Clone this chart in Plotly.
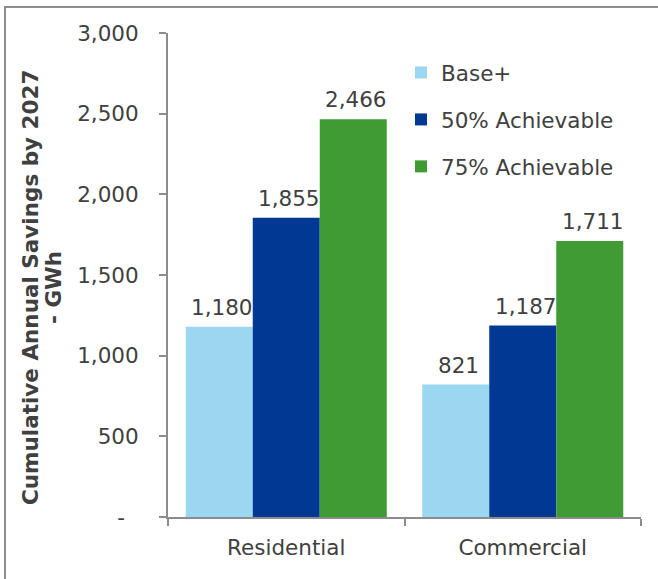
import plotly.graph_objects as go

# Cumulative annual savings by 2027 (GWh)
sectors = ["Residential", "Commercial"]
series_names = ["Base+", "50% Achievable", "75% Achievable"]
base_plus = [1180, 821]
achievable_50 = [1855, 1187]
achievable_75 = [2466, 1711]
y_tick_vals = [0, 500, 1000, 1500, 2000, 2500, 3000]
y_tick_text = ["-\u00a0\u00a0", "500", "1,000", "1,500", "2,000", "2,500", "3,000"]

colors = ["#9BD7F0", "#003893", "#409B34"]
text_color = "#404040"
line_gray = "#8c8c8c"
font_family = "DejaVu Sans, Verdana, sans-serif"
fs = 21.5

# plot area in pixels: x 168..641, y 33..517
L, R, T, B = 168, 641, 33, 517
W, H = R - L, B - T


def px_x(x):
    return (x - L) / W


def px_y(y):
    return (B - y) / H


fig = go.Figure()
for i, (name, vals) in enumerate(zip(series_names, [base_plus, achievable_50, achievable_75])):
    fig.add_trace(go.Bar(
        x=sectors, y=vals, name=name, legendgroup=name,
        marker=dict(color=colors[i], line=dict(width=0)),
        hoverinfo="skip",
    ))

# value labels above each bar
offsets = [-1, 0, 1]
for i, vals in enumerate([base_plus, achievable_50, achievable_75]):
    for j, v in enumerate(vals):
        fig.add_annotation(
            x=j, y=v, xref="x", yref="y", text=f"{v:,}", showarrow=False,
            xshift=offsets[i] * 67 + 3, yshift=5, yanchor="bottom",
            font=dict(size=fs, color=text_color, family=font_family),
        )

# y-axis title, two centred lines
for text, xc in [("Cumulative Annual Savings by 2027", 30), ("- GWh", 53)]:
    fig.add_annotation(
        x=px_x(xc), y=px_y(288), xref="paper", yref="paper", text=f"<b>{text}</b>",
        showarrow=False, textangle=-90, xanchor="center", yanchor="middle",
        font=dict(size=fs, color=text_color, family=font_family),
    )

# outer frame
fig.add_shape(type="rect", xref="paper", yref="paper",
              x0=px_x(5), x1=px_x(700), y0=px_y(700), y1=px_y(7),
              line=dict(color=line_gray, width=2), layer="below")

fig.update_layout(
    width=658, height=579,
    margin=dict(l=L, r=658 - R, t=T, b=579 - B),
    paper_bgcolor="white", plot_bgcolor="white",
    barmode="group", bargap=0.15, bargroupgap=0,
    font=dict(family=font_family, size=fs, color=text_color),
    showlegend=True,
    legend=dict(x=px_x(401), y=px_y(52), xanchor="left", yanchor="top",
                font=dict(size=fs, color=text_color),
                tracegroupgap=16, bgcolor="rgba(0,0,0,0)"),
    xaxis=dict(showline=True, linecolor=line_gray, linewidth=2,
               ticks="outside", tickson="boundaries", ticklen=7,
               tickcolor=line_gray, tickwidth=2, showgrid=False,
               ticklabelstandoff=10,
               tickfont=dict(size=fs, color=text_color)),
    yaxis=dict(range=[0, 3000], tickvals=y_tick_vals, ticktext=y_tick_text,
               showline=True, linecolor=line_gray, linewidth=2,
               ticks="outside", ticklen=7, tickcolor=line_gray, tickwidth=2,
               showgrid=False, zeroline=False, ticklabelstandoff=16,
               tickfont=dict(size=fs, color=text_color)),
)

fig.write_html("out.html")
